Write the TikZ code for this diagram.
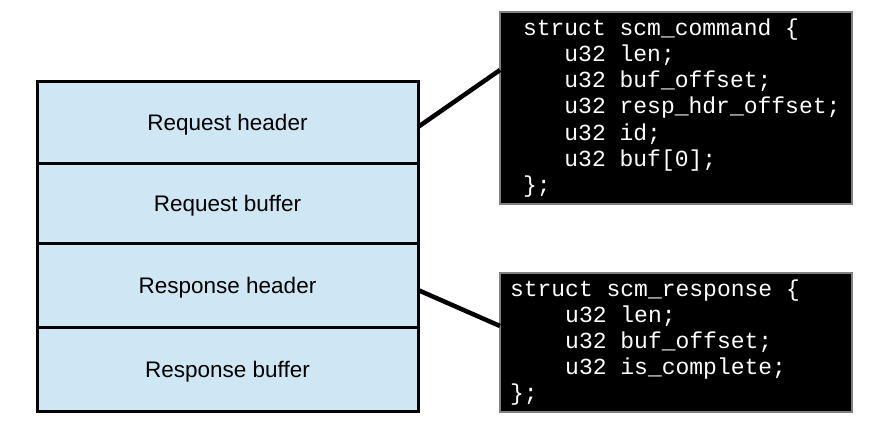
\documentclass[tikz,border=0pt]{standalone}
\usepackage{fontspec}
\setmainfont{Liberation Sans}
\setmonofont{Liberation Mono}
\usetikzlibrary{positioning}
\definecolor{bufblue}{RGB}{207,230,244}
\definecolor{codegray}{RGB}{128,128,128}
\newcommand{\codetab}[1]{\hspace*{#1\fontcharwd\font`x}}
\newcommand{\codesetup}[1]{\leftskip=#1\spaceskip=\fontcharwd\font`x\relax}
\tikzset{
    region/.style={draw=black, line width=3pt, fill=bufblue, minimum width=381pt, inner sep=0pt, outer sep=0pt, text depth=0pt, font=\fontsize{22.5}{27}\selectfont},
    codebox/.style={draw=codegray, line width=1.5pt, fill=black, text=white, align=left, inner sep=0pt, outer sep=0pt, text width=352pt, anchor=north west, font=\ttfamily\fontsize{23}{26.2}\selectfont},
    link/.style={line width=4.5pt}
}

\begin{document}
\begin{tikzpicture}[x=1pt, y=-1pt]
    \useasboundingbox (0,0) rectangle (892,434);

    % shared buffer layout
    \node[region, minimum height=82pt, anchor=north west] (reqhdr) at (37,81) {Request header};
    \node[region, minimum height=80pt, below=0pt of reqhdr] (reqbuf) {Request buffer};
    \node[region, minimum height=84pt, below=0pt of reqbuf] (resphdr) {Response header};
    \node[region, minimum height=84pt, below=0pt of resphdr] (respbuf) {Response buffer};

    % header structs
    \node[codebox, minimum height=192pt] (cmd) at (500,12)
        {\codesetup{23pt}struct scm\_command \{\\
         \codetab{3}u32 len;\\
         \codetab{3}u32 buf\_offset;\\
         \codetab{3}u32 resp\_hdr\_offset;\\
         \codetab{3}u32 id;\\
         \codetab{3}u32 buf[0];\\
         \};\par};
    \node[codebox, minimum height=139pt] (resp) at (500,273)
        {\codesetup{10pt}struct scm\_response \{\\
         \codetab{4}u32 len;\\
         \codetab{4}u32 buf\_offset;\\
         \codetab{4}u32 is\_complete;\\
         \};\par};

    \draw[link] ([yshift=-5pt]reqhdr.east) -- ([yshift=-58pt]cmd.north west);
    \draw[link] ([yshift=-5pt]resphdr.east) -- ([yshift=-53pt]resp.north west);
\end{tikzpicture}
\end{document}
